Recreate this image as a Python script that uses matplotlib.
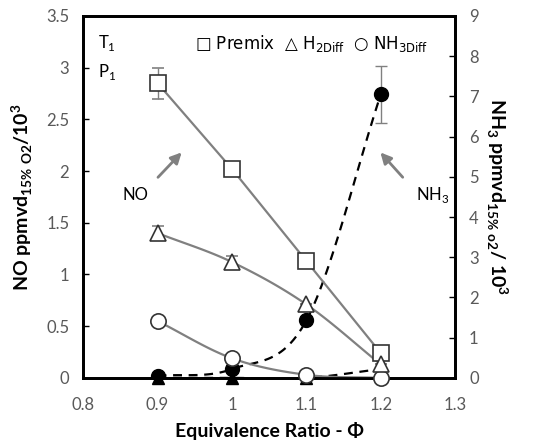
import matplotlib.pyplot as plt
import numpy as np

plt.rcParams['font.family'] = ['Lato', 'DejaVu Sans']
plt.rcParams['mathtext.fontset'] = 'custom'
plt.rcParams['mathtext.rm'] = 'Lato'

phi = [0.9, 1.0, 1.1, 1.2]

# NO (left axis)
no_premix = [2.85, 2.02, 1.13, 0.24]
no_premix_err = [0.15, 0.06, 0.0, 0.0]
no_h2diff = [1.40, 1.12, 0.71, 0.13]
no_h2diff_err = [0.07, 0.06, 0.0, 0.0]
no_nh3diff = [0.55, 0.19, 0.03, 0.0]

# NH3 (right axis)
nh3_nh3diff = [0.05, 0.22, 1.43, 7.05]
nh3_nh3diff_err = [0.0, 0.0, 0.0, 0.7]
nh3_h2diff = [0.0, 0.0, 0.0, 0.22]

gray = '#808080'
tick_gray = '#595959'


def smooth(x, y, n=30):
    # catmull-rom curve through the points, only for drawing the line
    x = np.asarray(x, float)
    y = np.asarray(y, float)
    px = np.concatenate([[2 * x[0] - x[1]], x, [2 * x[-1] - x[-2]]])
    py = np.concatenate([[2 * y[0] - y[1]], y, [2 * y[-1] - y[-2]]])
    xs, ys = [], []
    t = np.linspace(0, 1, n)
    for i in range(1, len(px) - 2):
        for p, out in ((px, xs), (py, ys)):
            p0, p1, p2, p3 = p[i - 1], p[i], p[i + 1], p[i + 2]
            out.extend(0.5 * ((2 * p1) + (-p0 + p2) * t +
                              (2 * p0 - 5 * p1 + 4 * p2 - p3) * t ** 2 +
                              (-p0 + 3 * p1 - 3 * p2 + p3) * t ** 3))
    return xs, ys


fig = plt.figure(figsize=(5.33, 4.42), dpi=100)
ax = fig.add_axes([0.156, 0.145, 0.698, 0.819])
ax2 = ax.twinx()

# NO series
ax.errorbar(phi, no_premix, yerr=no_premix_err, color=gray, lw=1.6, capsize=4,
            elinewidth=1, marker='s', ms=11, mfc='white', mec='#333333', mew=1.2, zorder=3)
hx, hy = smooth(phi, no_h2diff)
ax.plot(hx, hy, color=gray, lw=1.6, zorder=2)
ax.errorbar(phi, no_h2diff, yerr=no_h2diff_err, color=gray, lw=0, capsize=4,
            elinewidth=1, marker='^', ms=12, mfc='white', mec='#333333', mew=1.2, zorder=3)
cx, cy = smooth(phi, no_nh3diff)
ax.plot(cx, cy, color=gray, lw=1.6, zorder=2)
ax.plot(phi, no_nh3diff, lw=0, marker='o', ms=11, mfc='white', mec='#333333', mew=1.2,
        zorder=3, clip_on=False)

# NH3 series
sx, sy = smooth(phi, nh3_nh3diff)
ax2.plot(sx, sy, color='black', lw=1.6, ls=(0, (4, 3)), zorder=2)
ax2.errorbar(phi, nh3_nh3diff, yerr=nh3_nh3diff_err, color=gray, lw=0, capsize=4,
             elinewidth=1, marker='o', ms=10, mfc='black', mec='black', zorder=3)
tx, ty = smooth(phi, nh3_h2diff)
ax2.plot(tx, ty, color='black', lw=1.6, ls=(0, (4, 3)), zorder=2)
ax2.plot(phi, nh3_h2diff, lw=0, marker='^', ms=9, mfc='black', mec='black',
         zorder=4, clip_on=False)

ax.set_xlim(0.8, 1.3)
ax.set_ylim(0, 3.5)
ax2.set_ylim(0, 9)
ax.set_xticks([0.8, 0.9, 1.0, 1.1, 1.2, 1.3])
ax.set_xticklabels(['0.8', '0.9', '1', '1.1', '1.2', '1.3'])
ax.set_yticks(np.arange(0, 3.6, 0.5))
ax.set_yticklabels(['0', '0.5', '1', '1.5', '2', '2.5', '3', '3.5'])
ax2.set_yticks(range(10))

for a in (ax, ax2):
    for s in a.spines.values():
        s.set_linewidth(2)
        s.set_color('black')
    a.tick_params(axis='y', direction='in', length=4, width=1, labelsize=12,
                  labelcolor=tick_gray, pad=10)
ax.tick_params(axis='x', length=0, labelsize=12, labelcolor=tick_gray, pad=14)
ax.patch.set_visible(False)
ax.set_zorder(ax2.get_zorder() + 1)

ax.set_xlabel('Equivalence Ratio - Φ', fontsize=14, fontweight='bold', labelpad=6)
ax.set_ylabel(r'NO ppmvd$_{\mathregular{15\%\ O2}}$/10$^{\mathregular{3}}$',
              fontsize=14, fontweight='bold', labelpad=8)
ax2.set_ylabel(r'NH$_{\mathregular{3}}$ ppmvd$_{\mathregular{15\%\ o2}}$/ 10$^{\mathregular{3}}$',
               fontsize=14, fontweight='bold', rotation=-90, labelpad=22)

# annotations
ax.text(0.04, 0.925, r'T$_{\mathregular{1}}$', transform=ax.transAxes, fontsize=12, va='center')
ax.text(0.04, 0.845, r'P$_{\mathregular{1}}$', transform=ax.transAxes, fontsize=12, va='center')
ax.text(0.3, 0.925, r'□ Premix  △ H$_{\mathregular{2Diff}}$  ○ NH$_{\mathregular{3Diff}}$',
        transform=ax.transAxes, fontsize=12, va='center', family=['DejaVu Sans'])

ax.annotate('', xy=(0.935, 2.2), xytext=(0.898, 1.92),
            arrowprops=dict(arrowstyle='-|>', color=gray, lw=2, mutation_scale=16))
ax.text(0.87, 1.77, 'NO', fontsize=12, ha='center', va='center')
ax.annotate('', xy=(1.197, 2.2), xytext=(1.232, 1.92),
            arrowprops=dict(arrowstyle='-|>', color=gray, lw=2, mutation_scale=16))
ax.text(1.27, 1.77, r'NH$_{\mathregular{3}}$', fontsize=12, ha='center', va='center')

fig.savefig('out.png', dpi=100)
